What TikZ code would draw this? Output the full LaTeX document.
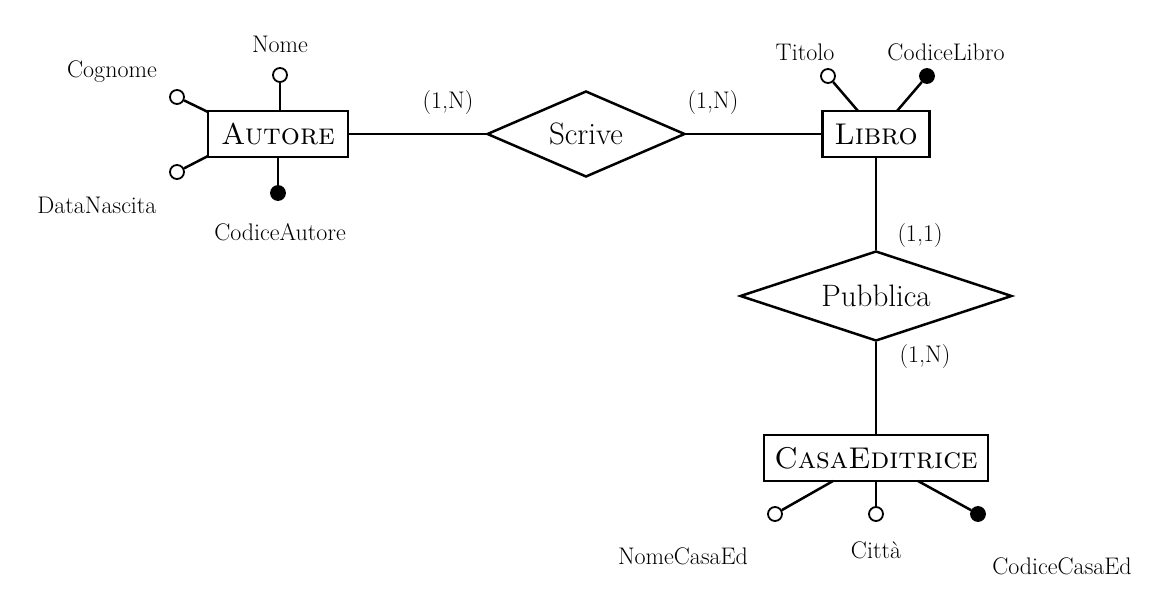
\documentclass[tikz,border=0pt]{standalone}
\usepackage{fontspec}
\usetikzlibrary{shapes.geometric}
\begin{document}
\begin{tikzpicture}[x=1pt,y=-1pt,line width=2.5pt,
 ent/.style={draw,rectangle,minimum height=46pt,inner xsep=4pt,font=\fontsize{30}{34}\selectfont\scshape},
 rel/.style={draw,diamond,aspect=2.3,inner sep=1pt,font=\fontsize{31}{34}\selectfont},
 att/.style={draw,circle,fill=white,minimum size=14pt,inner sep=0pt,line width=1.8pt},
 key/.style={att,fill=black},
 lab/.style={font=\fontsize{24}{28}\selectfont}]
\useasboundingbox (0,0) rectangle (1175,612);
\node[ent,minimum width=140pt] (autore) at (278,134) {Autore};
\node[ent,minimum width=107pt] (libro) at (876,134) {Libro};
\node[ent,minimum width=224pt] (casa) at (876,458) {CasaEditrice};
\node[rel,minimum width=198pt,minimum height=86pt] (scrive) at (586,134) {Scrive};
\node[rel,minimum width=272pt,minimum height=90pt] (pubb) at (876,296) {Pubblica};
\draw (autore) -- (scrive) -- (libro) -- (pubb) -- (casa);
\node[lab] (l1) at (448,103) {(1,N)};
\node[lab] (l2) at (713,103) {(1,N)};
\node[lab] (l3) at (920,236) {(1,1)};
\node[lab] (l4) at (925,357) {(1,N)};
% Autore attributes
\coordinate (an) at (280,111); \coordinate (ac) at (208,112); \coordinate (ad) at (208,156); \coordinate (ak) at (278,157);
\node[att] (nome) at (280,75) {}; \draw (an) -- (nome);
\node[att] (cogn) at (177,97) {}; \draw (ac) -- (cogn);
\node[att] (data) at (177,172) {}; \draw (ad) -- (data);
\node[key] (codA) at (278,193) {}; \draw (ak) -- (codA);
\node[lab] (tn) at (280,44) {Nome};
\node[lab] (tc) at (112,72) {Cognome};
\node[lab] (td) at (97,205) {DataNascita};
\node[lab] (tk) at (280,232) {CodiceAutore};
% Libro attributes
\coordinate (lt) at (858,111); \coordinate (lk) at (897,111);
\node[att] (tit) at (828,76) {}; \draw (lt) -- (tit);
\node[key] (codL) at (927,76) {}; \draw (lk) -- (codL);
\node[lab] (ttit) at (805,52) {Titolo};
\node[lab] (tcl) at (946,52) {CodiceLibro};
% Casa attributes
\coordinate (cn) at (833,481); \coordinate (cc) at (876,481); \coordinate (ck) at (918,481);
\node[att] (nce) at (775,514) {}; \draw (cn) -- (nce);
\node[att] (cit) at (876,514) {}; \draw (cc) -- (cit);
\node[key] (cce) at (978,514) {}; \draw (ck) -- (cce);
\node[lab] (tnce) at (683,556) {NomeCasaEd};
\node[lab] (tcit) at (876,550) {Città};
\node[lab] (tcce) at (1062,566) {CodiceCasaEd};
\end{tikzpicture}
\end{document}
